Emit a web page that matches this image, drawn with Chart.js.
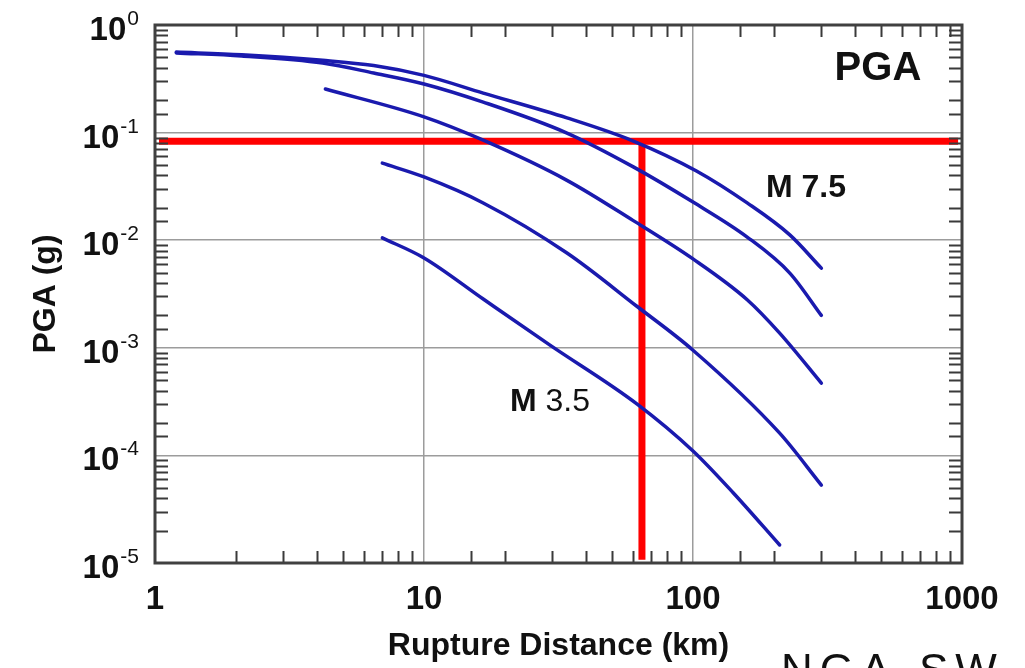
<!DOCTYPE html>
<html>
<head>
<meta charset="utf-8">
<title>PGA vs Rupture Distance</title>
<script src="https://cdn.jsdelivr.net/npm/chart.js@4.4.0/dist/chart.umd.min.js"></script>
<style>
  html, body { margin: 0; padding: 0; background: #fff; }
  #wrap { width: 1025px; height: 668px; position: relative; }
</style>
</head>
<body>
<div id="wrap"><canvas id="pgaChart"></canvas></div>
<script>
// values: rupture distance (km) and PGA (g) per curve
const dist1 = [1.2, 2.1, 4.2, 6.5, 10, 16.6, 34, 60, 103, 159, 229, 300];
const pga1  = [0.56, 0.53, 0.47, 0.42, 0.34, 0.233, 0.137, 0.0835, 0.044, 0.0222, 0.0112, 0.0055];

const dist2 = [1.2, 2.1, 4.2, 6.5, 10, 16.6, 34, 60, 100, 159, 229, 300];
const pga2  = [0.55, 0.515, 0.443, 0.358, 0.283, 0.192, 0.099, 0.048, 0.0226, 0.0107, 0.00495, 0.002];

const dist3 = [4.3, 10, 16.6, 34, 60, 100, 159, 210, 300];
const pga3  = [0.254, 0.14, 0.085, 0.036, 0.0152, 0.0067, 0.0028, 0.00137, 0.00047];

const dist4 = [7, 10, 16.6, 34, 62, 100, 210, 300];
const pga4  = [0.052, 0.0387, 0.0222, 0.0076, 0.00242, 0.00095, 0.000161, 0.000053];

const dist5 = [7, 10, 16.6, 29.4, 62, 100, 141, 210];
const pga5  = [0.0105, 0.00684, 0.00284, 0.00106, 0.0003, 0.00011, 0.000045, 0.0000147];

// red guide lines (target PGA level and the distance where it is reached)
const guideH_x = [1.035, 967];
const guideH_y = [0.083, 0.083];
const guideV_x = [64.6, 64.6];
const guideV_y = [0.083, 0.0000107];

// text placed in the plot, in data coordinates
const noteText = ['PGA', 'M 7.5', 'M 3.5'];
const noteX = [487, 263, 29.4];
const noteY = [0.39, 0.0306, 0.00031];

const xTickLabels = [1, 10, 100, 1000];

const FONT = "'Liberation Sans', Arial, Helvetica, sans-serif";
const CURVE = '#1a1aae';

function pts(xs, ys) {
  return xs.map((x, i) => ({ x: x, y: ys[i] }));
}

function isDecade(v) {
  const l = Math.log10(v);
  return Math.abs(l - Math.round(l)) < 1e-6;
}

function curve(xs, ys) {
  return {
    data: pts(xs, ys),
    borderColor: CURVE,
    borderWidth: 3.5,
    pointRadius: 0,
    cubicInterpolationMode: 'monotone',
    borderCapStyle: 'round',
    borderJoinStyle: 'round',
    fill: false
  };
}

function guide(xs, ys) {
  return {
    data: pts(xs, ys),
    borderColor: '#ff0000',
    borderWidth: 7,
    pointRadius: 0,
    tension: 0,
    borderCapStyle: 'butt',
    fill: false
  };
}

// frame, inward minor ticks, y labels with exponents and text notes
const framePlugin = {
  id: 'frame',
  afterDraw(chart) {
    const ctx = chart.ctx;
    const a = chart.chartArea;
    const xs = chart.scales.x;
    const ys = chart.scales.y;
    ctx.save();

    ctx.strokeStyle = '#3a3a3a';
    ctx.lineWidth = 2;
    xs.ticks.forEach(t => {
      if (isDecade(t.value)) return;
      const px = Math.round(xs.getPixelForValue(t.value)) + 0.5;
      ctx.beginPath();
      ctx.moveTo(px, a.bottom); ctx.lineTo(px, a.bottom - 12);
      ctx.moveTo(px, a.top); ctx.lineTo(px, a.top + 12);
      ctx.stroke();
    });
    ys.ticks.forEach(t => {
      if (isDecade(t.value)) return;
      const py = Math.round(ys.getPixelForValue(t.value)) + 0.5;
      ctx.beginPath();
      ctx.moveTo(a.left, py); ctx.lineTo(a.left + 13, py);
      ctx.moveTo(a.right, py); ctx.lineTo(a.right - 13, py);
      ctx.stroke();
    });

    ctx.lineWidth = 3;
    ctx.strokeStyle = '#404040';
    ctx.strokeRect(a.left, a.top, a.right - a.left, a.bottom - a.top);

    // y tick labels: 10 with superscript exponent
    ctx.fillStyle = '#111';
    ctx.textAlign = 'right';
    ctx.textBaseline = 'alphabetic';
    ys.ticks.forEach(t => {
      if (!isDecade(t.value)) return;
      const py = ys.getPixelForValue(t.value);
      const exp = String(Math.round(Math.log10(t.value)));
      ctx.font = '21px ' + FONT;
      const ew = ctx.measureText(exp).width;
      ctx.fillText(exp, 139, py);
      ctx.font = 'bold 33px ' + FONT;
      ctx.fillText('10', 139 - ew - 1, py + 15);
    });

    // notes inside the plot
    ctx.textAlign = 'center';
    ctx.textBaseline = 'middle';
    noteText.forEach((txt, i) => {
      const px = xs.getPixelForValue(noteX[i]);
      const py = ys.getPixelForValue(noteY[i]);
      if (i === 0) {
        ctx.font = 'bold 40px ' + FONT;
        ctx.fillText(txt, px, py);
      } else if (i === 1) {
        ctx.font = 'bold 32px ' + FONT;
        ctx.fillText(txt, px, py);
      } else {
        // "M" bold, the number lighter
        ctx.font = 'bold 32px ' + FONT;
        const mw = ctx.measureText('M ').width;
        ctx.font = '32px ' + FONT;
        const nw = ctx.measureText('3.5').width;
        const x0 = px - (mw + nw) / 2;
        ctx.textAlign = 'left';
        ctx.font = 'bold 32px ' + FONT;
        ctx.fillText('M', x0, py);
        ctx.font = '32px ' + FONT;
        ctx.fillText('3.5', x0 + mw, py);
        ctx.textAlign = 'center';
      }
    });

    // caption cut off at the lower edge of the picture
    ctx.textAlign = 'left';
    ctx.textBaseline = 'top';
    ctx.font = '44px ' + FONT;
    ctx.letterSpacing = '7px';
    ctx.fillText('NGA-SW', 781, 651);
    ctx.restore();
  }
};

new Chart(document.getElementById('pgaChart'), {
  type: 'line',
  data: {
    datasets: [
      curve(dist1, pga1),
      curve(dist2, pga2),
      curve(dist3, pga3),
      curve(dist4, pga4),
      curve(dist5, pga5),
      guide(guideH_x, guideH_y),
      guide(guideV_x, guideV_y)
    ]
  },
  options: {
    responsive: true,
    maintainAspectRatio: false,
    animation: false,
    layout: { padding: { top: 25, right: 63, left: 0, bottom: 0 } },
    plugins: {
      legend: { display: false },
      tooltip: { enabled: false }
    },
    scales: {
      x: {
        type: 'logarithmic',
        min: 1,
        max: 1000,
        border: { display: false },
        grid: {
          drawTicks: false,
          lineWidth: 1.5,
          color: c => (c.tick && isDecade(c.tick.value)) ? '#9c9c9c' : 'transparent'
        },
        ticks: {
          autoSkip: false,
          maxRotation: 0,
          padding: 17,
          color: '#111',
          font: { family: FONT, size: 33, weight: 'bold' },
          callback: v => xTickLabels.includes(v) ? String(v) : ''
        },
        title: {
          display: true,
          text: 'Rupture Distance (km)',
          color: '#111',
          font: { family: FONT, size: 32, weight: 'bold' },
          padding: { top: 0, bottom: 3 }
        },
        afterFit: s => { s.height = 105; }
      },
      y: {
        type: 'logarithmic',
        min: 0.00001,
        max: 1,
        border: { display: false },
        grid: {
          drawTicks: false,
          lineWidth: 1.5,
          color: c => (c.tick && isDecade(c.tick.value)) ? '#9c9c9c' : 'transparent'
        },
        ticks: { display: false },
        title: {
          display: true,
          text: 'PGA (g)',
          color: '#111',
          font: { family: FONT, size: 32, weight: 'bold' },
          padding: { top: 27, bottom: 0 }
        },
        afterFit: s => { s.width = 155; }
      }
    }
  },
  plugins: [framePlugin]
});
</script>
</body>
</html>
